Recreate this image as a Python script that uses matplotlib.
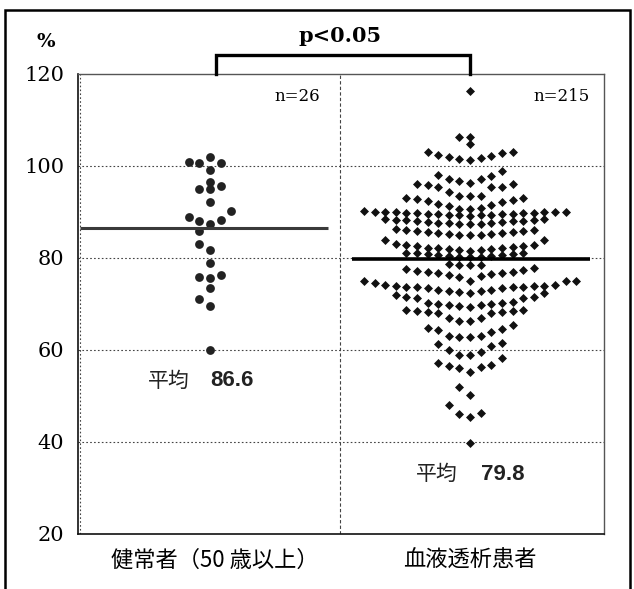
import matplotlib.pyplot as plt
from matplotlib.patches import Rectangle
import numpy as np

plt.rcParams['font.family'] = ['DejaVu Serif']
JP = ['Noto Sans CJK JP', 'DejaVu Sans']

categories = ['健常者（50 歳以上）', '血液透析患者']
n_labels = ['n=26', 'n=215']
means = [86.6, 79.8]
mean_labels = ['86.6', '79.8']

# values, grouped by the dot-plot row they sit in
healthy_rows = [
    [102.0],
    [99.1, 100.6, 100.6, 100.9],
    [96.6],
    [94.9, 95.0, 95.6],
    [92.1],
    [87.3, 88.0, 88.3, 89.0, 90.2],
    [85.9],
    [81.7, 83.0],
    [79.0],
    [75.6, 75.9, 76.3],
    [73.4],
    [69.6, 71.0],
    [60.0],
]
dialysis_rows = [
    [116.2],
    [106.2, 106.3],
    [104.8],
    [101.2, 101.5, 101.7, 101.9, 102.2, 102.4, 102.8, 103.1, 103.1],
    [96.4, 96.7, 97.2, 97.2, 97.8, 98.1, 99.0],
    [93.5, 93.5, 93.5, 94.4, 95.4, 95.4, 95.4, 95.9, 96.1, 96.1],
    [90.6, 90.7, 90.9, 91.2, 91.5, 91.8, 92.1, 92.4, 92.6, 92.8, 93.0, 93.0],
    [89.2, 89.3, 89.3, 89.4, 89.4, 89.5, 89.5, 89.6, 89.6, 89.7, 89.7, 89.8,
     89.8, 89.9, 89.9, 90.0, 90.0, 90.1, 90.1, 90.2],
    [87.3, 87.4, 87.4, 87.5, 87.6, 87.7, 87.8, 87.9, 88.0, 88.0, 88.1, 88.2,
     88.3, 88.3, 88.4, 88.5],
    [84.9, 85.0, 85.1, 85.2, 85.3, 85.4, 85.5, 85.6, 85.7, 85.8, 85.9, 86.0,
     86.1, 86.2],
    [81.6, 81.7, 81.7, 81.9, 82.0, 82.1, 82.1, 82.2, 82.3, 82.6, 82.6, 82.8,
     82.8, 83.0, 83.9, 83.9],
    [80.2, 80.3, 80.3, 80.4, 80.5, 80.6, 80.7, 80.8, 80.9, 81.0, 81.0, 81.1],
    [78.5, 78.5, 78.5, 78.8],
    [75.1, 75.9, 76.1, 76.3, 76.5, 76.8, 76.8, 77.0, 77.0, 77.2, 77.4, 77.5, 77.8],
    [72.3, 72.5, 72.8, 72.9, 73.0, 73.0, 73.4, 73.4, 73.6, 73.6, 73.6, 73.8,
     73.9, 73.9, 73.9, 74.1, 74.1, 74.6, 74.9, 74.9, 74.9],
    [69.4, 69.6, 69.8, 69.8, 70.1, 70.1, 70.3, 70.3, 70.5, 71.2, 71.2, 71.6,
     71.6, 72.0, 72.3],
    [66.2, 66.4, 66.9, 66.9, 68.0, 68.0, 68.3, 68.3, 68.5, 68.5, 68.7, 68.8],
    [62.8, 62.8, 63.0, 63.0, 64.0, 64.3, 64.5, 64.7, 65.4],
    [58.9, 58.9, 59.6, 60.1, 60.9, 61.3, 61.5],
    [55.3, 56.0, 56.4, 56.5, 56.7, 57.2, 58.2],
    [50.2, 51.9],
    [45.5, 46.1, 46.2, 48.0],
    [39.7],
]


def slot_order():
    yield 0
    k = 1
    while True:
        yield -k
        yield k
        k += 1


def swarm(rows, centre, spacing, gap):
    # lowest value of a row in the middle, the rest spread out to both sides;
    # a slot is skipped if an earlier row already has a dot too close in it
    placed = {}
    xs, ys = [], []
    for row in rows:
        used, new = set(), []
        for v in sorted(row):
            for s in slot_order():
                if s in used:
                    continue
                if any(abs(v - y) < gap for y in placed.get(s, [])):
                    continue
                break
            used.add(s)
            new.append((s, v))
        for s, v in new:
            placed.setdefault(s, []).append(v)
            xs.append(centre + s * spacing)
            ys.append(v)
    return np.array(xs), np.array(ys)


fig = plt.figure(figsize=(6.34, 5.89), dpi=100)
ax = fig.add_axes([0.1230, 0.0934, 0.8297, 0.7810])

# outer frame of the picture (open at the bottom)
fig.patches.append(Rectangle((5 / 634, -0.02), 625 / 634, 579 / 589 + 0.02,
                             transform=fig.transFigure, fill=False,
                             lw=1.8, ec='black'))

ax.set_xlim(-0.508, 1.515)
ax.set_ylim(20, 120)
ax.set_yticks([20, 40, 60, 80, 100, 120])
ax.tick_params(axis='y', length=0, pad=10, labelsize=15)
ax.set_xticks([0.02, 1.0], categories, family=JP, fontsize=16)
ax.tick_params(axis='x', length=0, pad=11)

for yv in (40, 60, 80, 100):
    ax.axhline(yv, color='#444', lw=0.8, ls=(0, (1.5, 2)), zorder=0)
ax.axvline(0.5, color='#444', lw=0.8, ls=(0, (3, 2)), zorder=0)
ax.axvline(-0.5, color='#444', lw=0.8, ls=(0, (1.5, 2)), zorder=0)

for s in ('left', 'bottom'):
    ax.spines[s].set_linewidth(1.2)
    ax.spines[s].set_color('#111')
for s in ('top', 'right'):
    ax.spines[s].set_linewidth(1.0)
    ax.spines[s].set_color('#555')

hx, hy = swarm(healthy_rows, 0.0, 0.041, 1.65)
dx, dy = swarm(dialysis_rows, 1.0, 0.0408, 1.2)
ax.scatter(hx, hy, s=40, marker='o', color='#222', lw=0, zorder=3)
ax.scatter(dx, dy, s=21, marker='D', color='#111', lw=0, zorder=3)

ax.hlines(means[0], -0.5, 0.455, color='#3a3a3a', lw=2.2, zorder=4)
ax.hlines(means[1], 0.545, 1.46, color='black', lw=2.6, zorder=4)

ax.text(0.423, 115, n_labels[0], ha='right', va='center', fontsize=12)
ax.text(1.458, 115, n_labels[1], ha='right', va='center', fontsize=12)

ax.text(-0.238, 53.3, '平均', family=JP, fontsize=15, ha='left', va='center', color='#222')
ax.text(0.0, 53.3, mean_labels[0], family='Liberation Sans', fontweight='bold',
        fontsize=16, ha='left', va='center', color='#222')
ax.text(0.792, 33.0, '平均', family=JP, fontsize=15, ha='left', va='center', color='#222')
ax.text(1.04, 33.0, mean_labels[1], family='Liberation Sans', fontweight='bold',
        fontsize=16, ha='left', va='center', color='#222')

# significance bracket above the plot
ax.plot([0.023, 0.023, 1.0, 1.0], [120, 124.1, 124.1, 120], color='black',
        lw=2.4, clip_on=False, solid_joinstyle='miter', zorder=5)
ax.text(0.5, 128.3, 'p<0.05', ha='center', va='center', fontsize=15,
        fontweight='bold', clip_on=False)
ax.text(-0.63, 127.0, '%', ha='center', va='center', fontsize=14,
        fontweight='bold', clip_on=False)

fig.savefig('out.png', dpi=100)
print(len(hy), len(dy), hy.mean(), dy.mean())
